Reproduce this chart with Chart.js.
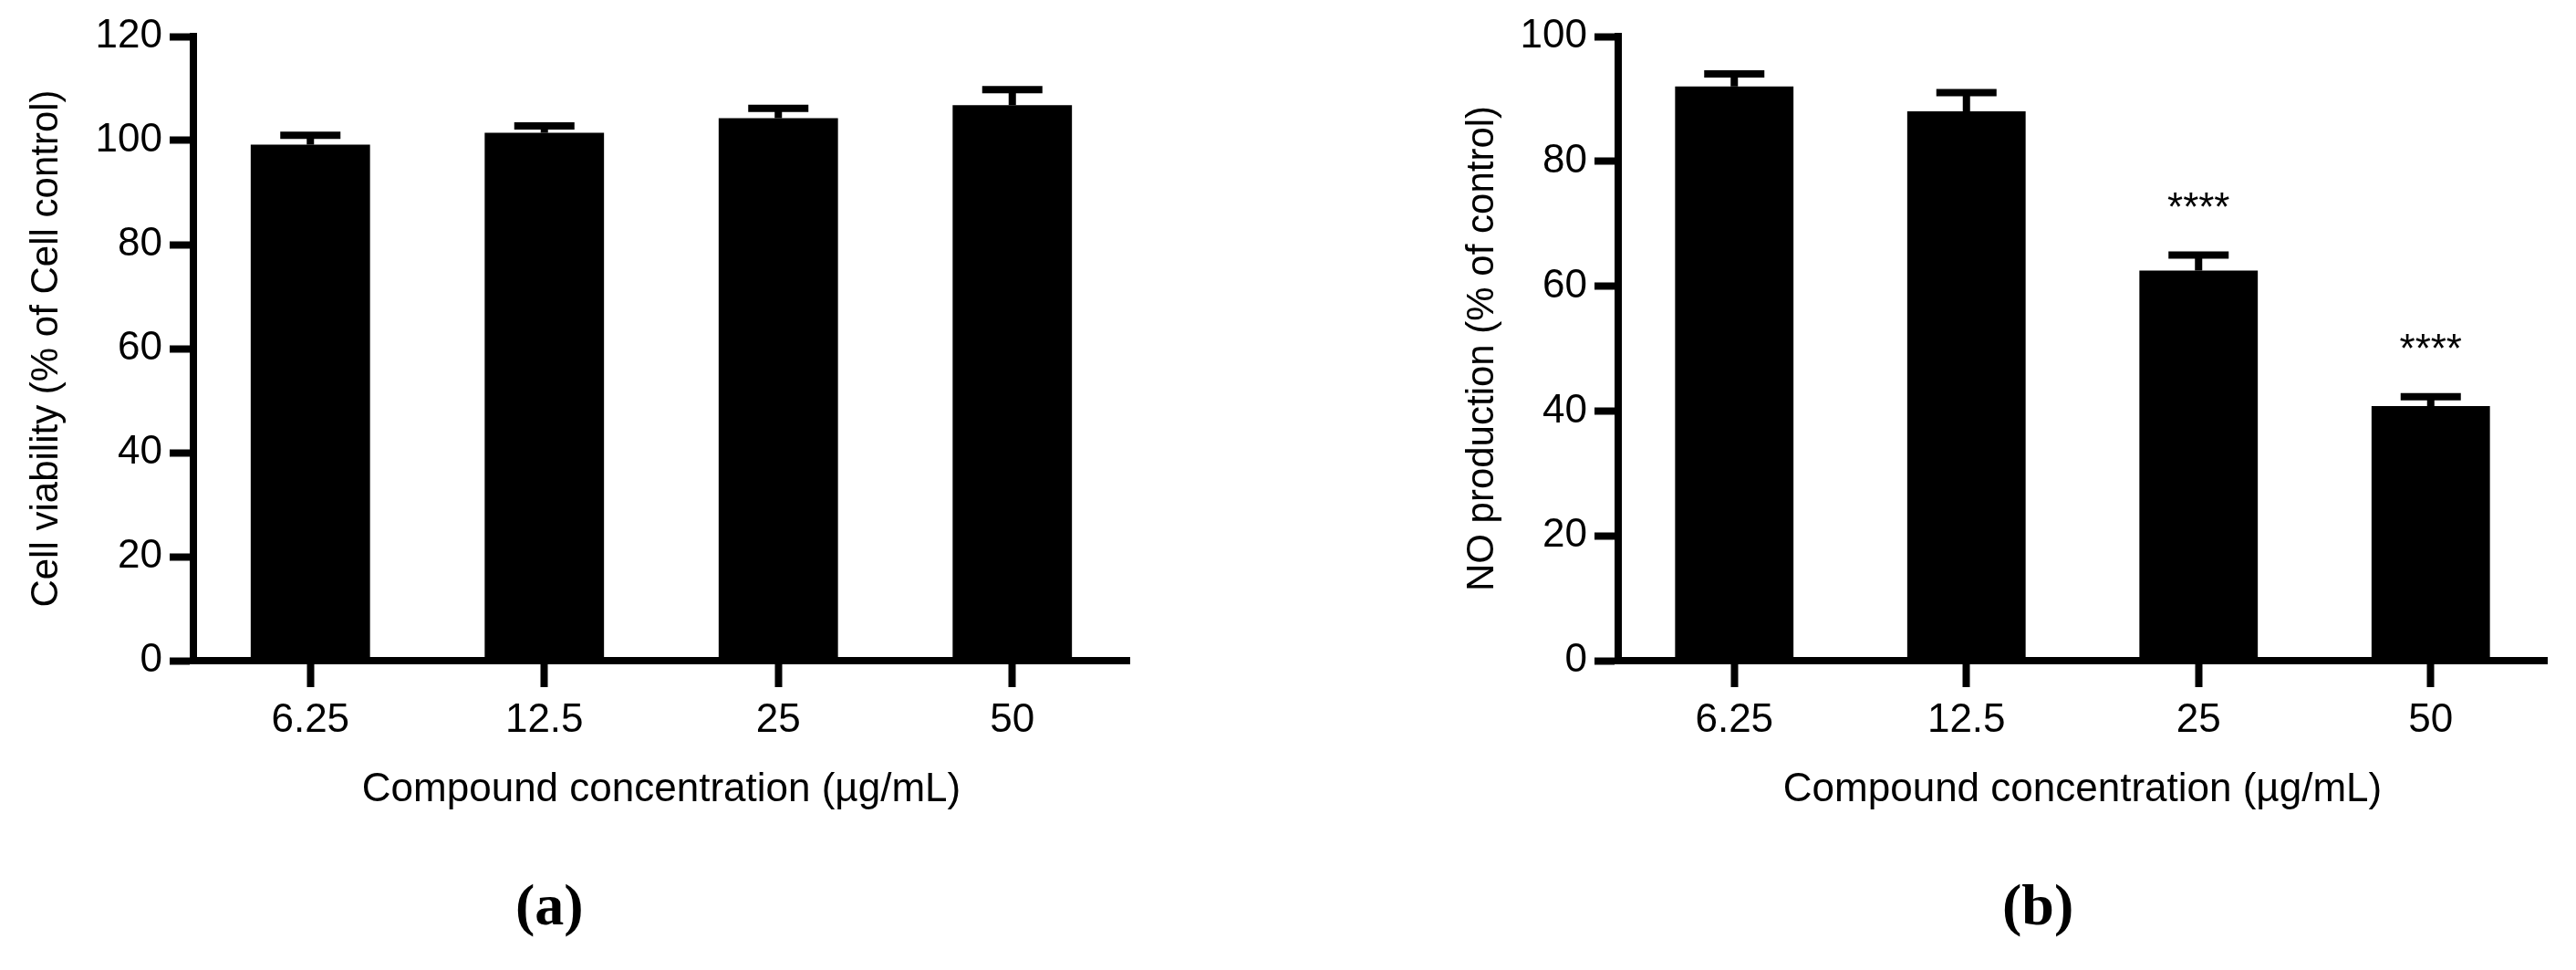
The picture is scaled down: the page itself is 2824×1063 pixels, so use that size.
<!DOCTYPE html>
<html>
<head>
<meta charset="utf-8">
<script src="https://cdn.jsdelivr.net/npm/chart.js@4/dist/chart.umd.min.js"></script>
<style>
  body { margin: 0; background: #fff; width: 2824px; height: 1063px; position: relative; overflow: hidden; }
  .box { position: absolute; top: 0; }
  .tag { position: absolute; top: 955px; font: bold 64px "Liberation Serif", "DejaVu Serif", serif; }
</style>
</head>
<body>
<div class="box" style="left:0;width:1268px;height:900px"><canvas id="ca"></canvas></div>
<div class="box" style="left:1560px;width:1262px;height:900px"><canvas id="cb"></canvas></div>
<div class="tag" style="left:565px">(a)</div>
<div class="tag" style="left:2195px">(b)</div>
<script>
// concentrations, µg/mL
var concLabels = ['6.25', '12.5', '25', '50'];
// (a) cell viability, % of cell control
var viability = [99.2, 101.5, 104.3, 106.8];
var viabilityErr = [1.8, 1.3, 1.9, 3.0];
// (b) NO production, % of control
var noProd = [92.0, 88.0, 62.5, 40.8];
var noProdErr = [2.0, 3.0, 2.5, 1.5];
var noStars = ['', '', '****', '****'];

var FONT = '"Liberation Sans", Arial, sans-serif';

// draws upper error caps and significance marks
var errorBars = {
    id: 'errorBars',
    afterDatasetsDraw: function (chart, args, opts) {
        var ctx = chart.ctx;
        var xs = chart.scales.x, ys = chart.scales.y;
        var vals = chart.data.datasets[0].data;
        ctx.save();
        ctx.strokeStyle = '#000';
        ctx.lineWidth = 8;
        for (var i = 0; i < vals.length; i++) {
            var x = xs.getPixelForValue(i);
            var y0 = ys.getPixelForValue(vals[i]);
            var y1 = ys.getPixelForValue(vals[i] + opts.err[i]);
            ctx.beginPath();
            ctx.moveTo(x, y0);
            ctx.lineTo(x, y1);
            ctx.moveTo(x - 33, y1);
            ctx.lineTo(x + 33, y1);
            ctx.stroke();
            if (opts.stars && opts.stars[i]) {
                ctx.fillStyle = '#000';
                ctx.font = '44px ' + FONT;
                ctx.textAlign = 'center';
                ctx.textBaseline = 'bottom';
                ctx.fillText(opts.stars[i], x, y1 - 28);
            }
        }
        ctx.restore();
    }
};

function makeChart(id, values, err, stars, yMax, yTitle, yWidth, titlePad) {
    return new Chart(document.getElementById(id), {
        type: 'bar',
        data: {
            labels: concLabels,
            datasets: [{ data: values, backgroundColor: '#000', barPercentage: 0.51, categoryPercentage: 1 }]
        },
        options: {
            responsive: true,
            maintainAspectRatio: false,
            animation: false,
            layout: { padding: { top: 40, right: 30, left: 0, bottom: 0 } },
            plugins: { legend: { display: false }, tooltip: { enabled: false },
                       errorBars: { err: err, stars: stars } },
            scales: {
                x: {
                    grid: { display: true, drawOnChartArea: false, offset: false, tickLength: 29, tickColor: '#000', tickWidth: 8 },
                    border: { color: '#000', width: 8 },
                    ticks: { color: '#000', font: { family: FONT, size: 44 }, padding: 10 },
                    title: { display: true, text: 'Compound concentration (µg/mL)', color: '#000',
                             font: { family: FONT, size: 44 }, padding: { top: 0, bottom: 8 } },
                    afterFit: function (s) { s.height = 176; }
                },
                y: {
                    min: 0, max: yMax,
                    grid: { display: true, drawOnChartArea: false, tickLength: 26, tickColor: '#000', tickWidth: 8 },
                    border: { color: '#000', width: 8 },
                    ticks: { stepSize: 20, color: '#000', font: { family: FONT, size: 44 }, padding: 8 },
                    title: { display: true, text: yTitle, color: '#000', font: { family: FONT, size: 42 },
                             padding: { top: titlePad, bottom: 0 } },
                    afterFit: function (s) { s.width = yWidth; }
                }
            }
        },
        plugins: [errorBars]
    });
}

makeChart('ca', viability, viabilityErr, null, 120, 'Cell viability (% of Cell control)', 212, 26);
makeChart('cb', noProd, noProdErr, noStars, 100, 'NO production (% of control)', 214, 40);
</script>
</body>
</html>
